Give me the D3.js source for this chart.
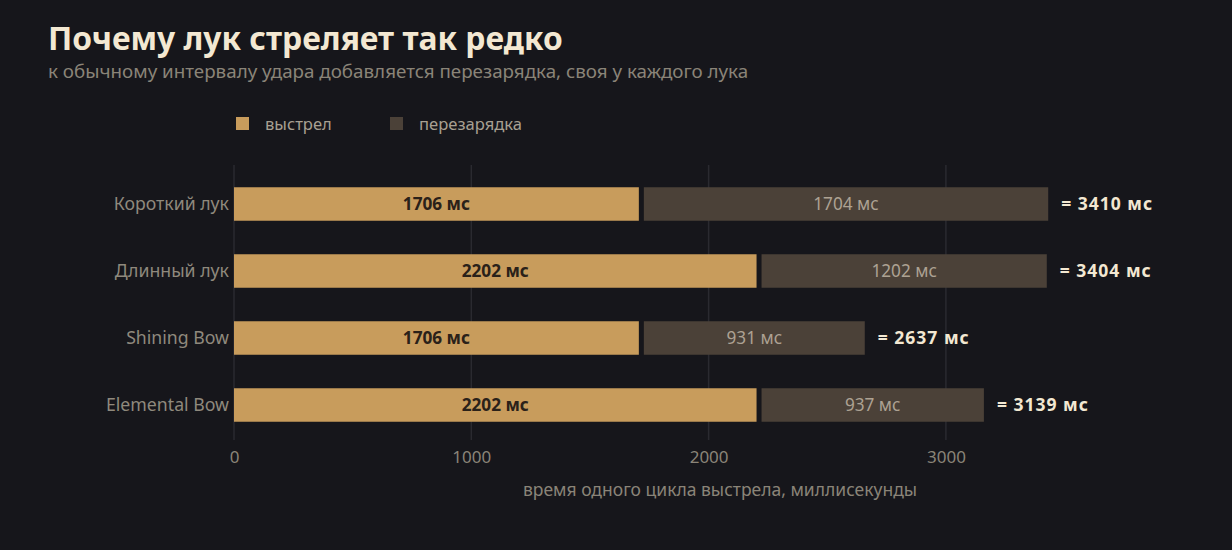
<!DOCTYPE html>
<html><head><meta charset="utf-8">
<script src="https://cdn.jsdelivr.net/npm/d3@7"></script>
<style>
html,body{margin:0;padding:0;background:#16161b;}
svg{display:block;font-family:"Noto Sans","Open Sans",sans-serif;}
</style></head>
<body>
<svg id="c" width="1232" height="550"></svg>
<script>
const categories = ["Короткий лук","Длинный лук","Shining Bow","Elemental Bow"];
const shotValues = [1706, 2202, 1706, 2202];
const rechargeValues = [1704, 1202, 931, 937];
const xTicks = [0, 1000, 2000, 3000];
const seriesNames = ["выстрел","перезарядка"];
const titleText = "Почему лук стреляет так редко";
const subtitleText = "к обычному интервалу удара добавляется перезарядка, своя у каждого лука";
const axisTitle = "время одного цикла выстрела, миллисекунды";

const colShot = "#c89c5c", colRe = "#4b4138";
const svg = d3.select("#c");
svg.append("rect").attr("width",1232).attr("height",550).attr("fill","#16161b");

const x = d3.scaleLinear().domain([0,4096]).range([234,1206]);
const y = d3.scaleBand().domain(categories).range([170.5,438.5]).paddingInner(0.5).paddingOuter(0.25);
const gap = 5;

svg.append("text").attr("x",48).attr("y",50).attr("fill","#f3e8d2")
  .attr("font-size",31.8).attr("font-weight",700).text(titleText);
svg.append("text").attr("x",48).attr("y",78).attr("fill","#8a8478")
  .attr("font-size",18.8).text(subtitleText);

// legend
const leg = svg.append("g");
const legX = [236, 390];
seriesNames.forEach((n,i)=>{
  leg.append("rect").attr("x",legX[i]).attr("y",117).attr("width",13).attr("height",13)
    .attr("fill", i===0?colShot:colRe);
  leg.append("text").attr("x",legX[i]+29).attr("y",129.5).attr("fill","#a8a092")
    .attr("font-size",16.6).text(n);
});

// grid
svg.append("g").selectAll("line").data(xTicks).join("line")
  .attr("x1",d=>x(d)).attr("x2",d=>x(d)).attr("y1",165).attr("y2",440)
  .attr("stroke","#2a2a30").attr("stroke-width",1.5);

// x axis
const xa = svg.append("g").attr("transform","translate(0,440)")
  .call(d3.axisBottom(x).tickValues(xTicks).tickSize(0).tickPadding(11).tickFormat(d3.format("d")));
xa.select(".domain").remove();
xa.selectAll("text").attr("fill","#8a8478").attr("font-size",17).attr("font-family","Noto Sans, sans-serif");

svg.append("text").attr("x",(x.range()[0]+x.range()[1])/2).attr("y",496).attr("text-anchor","middle")
  .attr("fill","#8a8478").attr("font-size",17.5).text(axisTitle);

// y labels
const ya = svg.append("g").attr("transform","translate(229,0)")
  .call(d3.axisLeft(y).tickSize(0).tickPadding(0));
ya.select(".domain").remove();
ya.selectAll("text").attr("fill","#8f897d").attr("font-size",17.7).attr("font-family","Noto Sans, sans-serif");

const rows = categories.map((c,i)=>({c, s:shotValues[i], r:rechargeValues[i]}));
const g = svg.append("g");
g.selectAll("rect.s").data(rows).join("rect").attr("class","s")
  .attr("x",x(0)).attr("y",d=>y(d.c)).attr("width",d=>x(d.s)-x(0)).attr("height",y.bandwidth())
  .attr("fill",colShot);
g.selectAll("rect.r").data(rows).join("rect").attr("class","r")
  .attr("x",d=>x(d.s)+gap).attr("y",d=>y(d.c)).attr("width",d=>x(d.r)-x(0)).attr("height",y.bandwidth())
  .attr("fill",colRe);
g.selectAll("text.s").data(rows).join("text").attr("class","s")
  .attr("x",d=>(x(0)+x(d.s))/2).attr("y",d=>y(d.c)+y.bandwidth()/2).attr("dy","0.35em")
  .attr("text-anchor","middle").attr("font-size",17.2).attr("font-weight",700).attr("fill","#2a2119")
  .text(d=>d.s+" мс");
g.selectAll("text.r").data(rows).join("text").attr("class","r")
  .attr("x",d=>x(d.s)+gap+(x(d.r)-x(0))/2).attr("y",d=>y(d.c)+y.bandwidth()/2).attr("dy","0.35em")
  .attr("text-anchor","middle").attr("font-size",17.2).attr("fill","#ada293")
  .text(d=>d.r+" мс");
g.selectAll("text.t").data(rows).join("text").attr("class","t")
  .attr("x",d=>x(d.s)+gap+(x(d.r)-x(0))+13).attr("y",d=>y(d.c)+y.bandwidth()/2).attr("dy","0.35em")
  .attr("font-size",17.5).attr("font-weight",700).attr("fill","#f3e8d2").attr("letter-spacing",1)
  .text(d=>"= "+(d.s+d.r)+" мс");
</script>
</body></html>
